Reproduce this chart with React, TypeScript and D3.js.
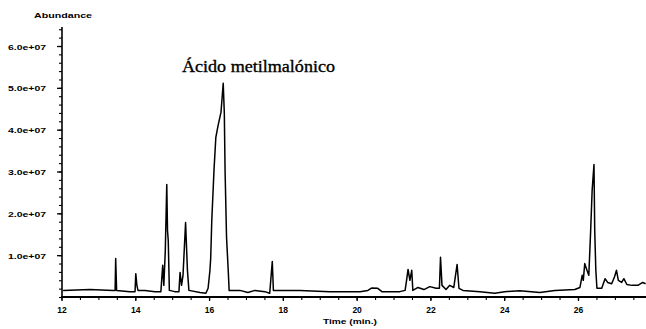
import React from "react";
import * as d3 from "d3";

const times: number[] = [
  12.03, 12.76, 13.38, 13.44, 13.455, 13.48, 13.84, 13.98, 14.0, 14.03, 14.06, 14.25, 14.52,
  14.68, 14.73, 14.76, 14.8, 14.84, 14.86, 14.88, 14.91, 15.06, 15.17, 15.2, 15.24, 15.28,
  15.35, 15.4, 15.44, 15.74, 15.9, 15.96, 16.01, 16.03, 16.06, 16.12, 16.17, 16.23, 16.31,
  16.37, 16.4, 16.42, 16.46, 16.51, 16.53, 16.82, 17.04, 17.23, 17.5, 17.63, 17.7, 17.73,
  18.45, 19.26, 20.08, 20.29, 20.4, 20.56, 20.67, 21.16, 21.3, 21.34, 21.38, 21.43, 21.48,
  21.51, 21.65, 21.81, 21.97, 22.14, 22.23, 22.26, 22.3, 22.41, 22.51, 22.62, 22.71, 22.76,
  22.87, 23.33, 23.73, 24.0, 24.41, 24.95, 25.36, 25.9, 26.04, 26.1, 26.13, 26.17, 26.23,
  26.28, 26.33, 26.37, 26.42, 26.44, 26.47, 26.5, 26.63, 26.72, 26.79, 26.9, 26.98, 27.03,
  27.08, 27.17, 27.23, 27.31, 27.45, 27.61, 27.74, 27.82,
];

const abundance: number[] = [
  0.17e7, 0.19e7, 0.17e7, 0.17e7, 0.93e7, 0.17e7, 0.14e7, 0.14e7, 0.57e7, 0.29e7, 0.17e7, 0.17e7, 0.14e7,
  0.14e7, 0.77e7, 0.29e7, 1.12e7, 2.7e7, 1.6e7, 1.36e7, 0.17e7, 0.14e7, 0.14e7, 0.6e7, 0.29e7, 0.53e7,
  1.79e7, 0.65e7, 0.17e7, 0.12e7, 0.1e7, 0.22e7, 0.65e7, 0.93e7, 1.84e7, 3.04e7, 3.83e7, 4.11e7, 4.43e7,
  5.12e7, 4.4e7, 3.04e7, 1.44e7, 0.57e7, 0.17e7, 0.17e7, 0.12e7, 0.17e7, 0.14e7, 0.1e7, 0.86e7, 0.17e7,
  0.17e7, 0.14e7, 0.14e7, 0.17e7, 0.23e7, 0.22e7, 0.14e7, 0.14e7, 0.17e7, 0.41e7, 0.67e7, 0.41e7, 0.65e7,
  0.17e7, 0.24e7, 0.19e7, 0.26e7, 0.22e7, 0.22e7, 0.96e7, 0.29e7, 0.19e7, 0.29e7, 0.24e7, 0.79e7, 0.22e7,
  0.17e7, 0.14e7, 0.1e7, 0.14e7, 0.16e7, 0.12e7, 0.17e7, 0.19e7, 0.24e7, 0.53e7, 0.41e7, 0.81e7, 0.65e7,
  0.53e7, 1.6e7, 2.56e7, 3.18e7, 1.6e7, 0.65e7, 0.22e7, 0.22e7, 0.45e7, 0.36e7, 0.33e7, 0.5e7, 0.65e7,
  0.41e7, 0.36e7, 0.45e7, 0.31e7, 0.29e7, 0.29e7, 0.36e7, 0.33e7,
];

const xTickValues: number[] = [12, 14, 16, 18, 20, 22, 24, 26];
const xTickLabels: string[] = ["12", "14", "16", "18", "20", "22", "24", "26"];
const yTickValues: number[] = [1e7, 2e7, 3e7, 4e7, 5e7, 6e7];
const yTickLabels: string[] = ["1.0e+07", "2.0e+07", "3.0e+07", "4.0e+07", "5.0e+07", "6.0e+07"];

const title = "Ácido metilmalónico";
const yTitle = "Abundance";
const xTitle = "Time (min.)";

export default function App() {
  const W = 646;
  const H = 329;
  const x = d3.scaleLinear().domain([12, 27.83]).range([62, 646]);
  const y = d3.scaleLinear().domain([0, 6e7]).range([297.5, 46.5]);

  const pts: [number, number][] = times.map((t, i) => [t, abundance[i]]);
  const line = d3
    .line<[number, number]>()
    .x((d) => x(d[0]))
    .y((d) => y(d[1]));

  const minorX = d3.range(12, 27.9, 0.5);
  const minorY = d3.range(0, 6.5e7, 0.2e7);
  const sans = "'Liberation Sans', Arial, sans-serif";

  return (
    <svg
      width={W}
      height={H}
      style={{ position: "absolute", left: 0, top: 0, background: "#fff" }}
    >
      <rect x={0} y={0} width={W} height={H} fill="#fff" />
      {/* Y axis */}
      <line x1={62} x2={62} y1={27} y2={297} stroke="#000" strokeWidth={1.6} />
      {minorY.map((v, i) => (
        <line key={"my" + i} x1={59} x2={62} y1={y(v)} y2={y(v)} stroke="#000" strokeWidth={1.1} />
      ))}
      {yTickValues.map((v, i) => (
        <g key={"yt" + i}>
          <line x1={57} x2={62} y1={y(v)} y2={y(v)} stroke="#000" strokeWidth={1.3} />
          <text
            x={8}
            y={y(v) + 3}
            fontFamily={sans}
            fontWeight="bold"
            fontSize={8}
            textLength={38}
            lengthAdjust="spacingAndGlyphs"
            fill="#000"
          >
            {yTickLabels[i]}
          </text>
        </g>
      ))}
      <text
        x={34}
        y={18}
        fontFamily={sans}
        fontWeight="bold"
        fontSize={7.5}
        textLength={58}
        lengthAdjust="spacingAndGlyphs"
        fill="#000"
      >
        {yTitle}
      </text>

      {/* X axis */}
      <line x1={61} x2={646} y1={297} y2={297} stroke="#000" strokeWidth={2} />
      {minorX.map((t, i) => (
        <line key={"mx" + i} x1={x(t)} x2={x(t)} y1={297} y2={300} stroke="#000" strokeWidth={1.1} />
      ))}
      {xTickValues.map((t, i) => (
        <g key={"xt" + i}>
          <line x1={x(t)} x2={x(t)} y1={297} y2={301} stroke="#000" strokeWidth={1.3} />
          <text
            x={x(t)}
            y={312.5}
            textAnchor="middle"
            fontFamily={sans}
            fontWeight="bold"
            fontSize={8.5}
            fill="#000"
          >
            {xTickLabels[i]}
          </text>
        </g>
      ))}
      <text
        x={323}
        y={324}
        fontFamily={sans}
        fontWeight="bold"
        fontSize={7.5}
        textLength={54}
        lengthAdjust="spacingAndGlyphs"
        fill="#000"
      >
        {xTitle}
      </text>

      {/* Trace */}
      <path d={line(pts) || ""} fill="none" stroke="#000" strokeWidth={1.5} strokeLinejoin="round" />

      {/* Title */}
      <text
        x={182}
        y={72}
        fontFamily="'Liberation Serif', 'Times New Roman', serif"
        fontSize={17}
        textLength={153}
        lengthAdjust="spacingAndGlyphs"
        fill="#000"
        stroke="#000"
        strokeWidth={0.35}
      >
        {title}
      </text>
    </svg>
  );
}
